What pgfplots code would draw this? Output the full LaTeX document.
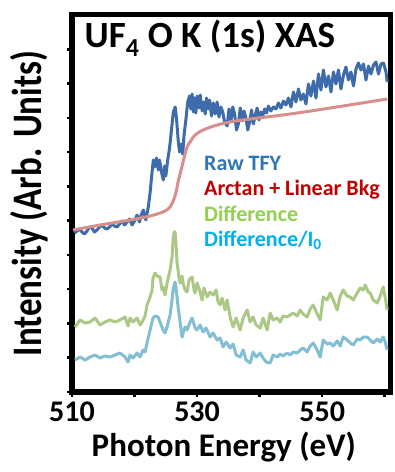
\documentclass[border=0pt]{standalone}
\usepackage{fontspec}
\setmainfont{Carlito}
\usepackage{pgfplots}
\pgfplotsset{compat=1.18}
\definecolor{rawline}{RGB}{62,108,170}
\definecolor{fitline}{RGB}{214,143,140}
\definecolor{diffline}{RGB}{172,200,134}
\definecolor{diffiline}{RGB}{130,190,212}
\definecolor{rawtxt}{RGB}{46,117,182}
\definecolor{fittxt}{RGB}{192,0,0}
\definecolor{difftxt}{RGB}{146,208,80}
\definecolor{diffitxt}{RGB}{0,176,240}
\begin{document}
\begin{tikzpicture}[x=1pt,y=1pt]
\useasboundingbox (-72pt,-80pt) rectangle (323pt,392pt);
\begin{axis}[
  at={(0,0)}, anchor=south west,
  width=319pt, height=377pt, scale only axis,
  xmin=510, xmax=561, ymin=0, ymax=377,
  axis line style={line width=5pt},
  xtick={510,520,530,540,550,560},
  xticklabels={510,,530,,550,},
  ytick={0,34.27,68.55,102.82,137.09,171.36,205.64,239.91,274.18,308.45,342.73},
  yticklabels={},
  xtick pos=bottom, ytick pos=left,
  tick align=outside,
  major tick length=5pt,
  every tick/.style={black, line width=2.5pt},
  ticklabel style={font=\fontsize{30}{30}\selectfont\bfseries},
  /pgf/number format/assume math mode=true,
  xticklabel style={anchor=north, inner sep=0pt, text depth=0pt, yshift=-5pt},
  xlabel={Photon Energy (eV)},
  ylabel={Intensity (Arb. Units)},
  xlabel style={at={(rel axis cs:0.476,0)}, anchor=base, inner sep=0pt, text height=21pt, yshift=-64pt,
    font=\fontsize{33}{33}\selectfont\bfseries},
  ylabel style={at={(rel axis cs:0,0.5)}, anchor=base, inner sep=0pt, yshift=30pt, yscale=1.2,
    font=\fontsize{35}{35}\selectfont\bfseries},
  clip=true,
]
\draw[line width=7pt, line cap=rect] (rel axis cs:0,1) |- (rel axis cs:1,0);
% Raw TFY
\addplot[rawline, line width=3pt, line join=round] coordinates {
(510.4,159)(510.8,161)(511.2,163)(511.6,160)(512.0,158)(512.4,161)(512.8,165)(513.2,164)
(513.6,160)(514.0,162)(514.4,165)(514.8,167)(515.2,164)(515.6,163)(516.0,165)(516.4,168)
(516.8,166)(517.2,165)(517.6,168)(518.0,171)(518.4,167)(518.8,170)(519.2,173)(519.6,167)
(520.0,171)(520.4,177)(520.8,170)(521.0,176)(521.4,182)(521.8,172)(522.2,185)(522.5,200)
(522.8,220)(523.0,232)(523.2,225)(523.5,234)(523.8,222)(524.0,232)(524.3,220)(524.6,212)
(524.8,226)(525.0,216)(525.3,232)(525.6,244)(525.9,262)(526.2,280)(526.5,285)(526.7,274)
(527.0,250)(527.2,240)(527.4,248)(527.7,238)(527.9,256)(528.2,272)(528.5,290)(528.8,296)
(529.0,283)(529.2,298)(529.4,280)(529.6,294)(529.8,279)(530.0,296)(530.3,284)(530.5,297)
(530.8,281)(531.0,290)(531.3,278)(531.5,294)(531.8,283)(532.0,292)(532.3,276)(532.6,289)
(532.9,278)(533.2,290)(533.5,275)(533.8,285)(534.1,280)(534.4,270)(534.8,266)(535.1,283)
(535.4,270)(535.7,285)(536.0,278)(536.3,262)(536.6,268)(536.9,284)(537.2,271)(537.5,281)
(537.8,274)(538.1,262)(538.4,270)(538.7,282)(539.0,268)(539.3,277)(539.6,284)(539.9,272)
(540.2,280)(540.5,276)(540.8,283)(541.1,279)(541.4,286)(541.8,281)(542.2,285)(542.6,283)
(543.0,289)(543.4,284)(543.8,291)(544.2,287)(544.6,294)(545.0,285)(545.4,300)(545.8,290)
(546.2,303)(546.6,292)(547.0,298)(547.4,288)(547.8,308)(548.2,296)(548.6,311)(549.0,294)
(549.4,318)(549.8,302)(550.2,322)(550.6,305)(551.0,316)(551.4,300)(551.8,320)(552.2,308)
(552.6,322)(553.0,303)(553.4,317)(553.8,325)(554.2,312)(554.6,320)(555.0,306)(555.4,323)
(555.8,329)(556.2,322)(556.6,328)(557.0,312)(557.4,326)(557.8,318)(558.2,327)(558.6,330)
(559.0,318)(559.4,328)(559.8,329)(560.2,320)(560.4,310)
};
% Arctan + linear background
\addplot[fitline, line width=3pt, smooth] coordinates {
(510.16,162)(514.48,167)(519.28,172)(522.48,176)(524.08,179)(524.88,181)(525.68,185)
(526.48,196)(526.96,210)(527.28,218)(527.76,230)(528.24,242)(528.56,247)(528.88,250)
(529.68,257)(530.96,262)(533.20,267)(536.08,271)(538.48,273)(544.88,278)(551.28,284)(560.40,293)
};
% Difference
\addplot[diffline, line width=3pt, line join=round] coordinates {
(510.48,65)(511.28,72)(512.08,69)(512.88,70)(513.68,74)(514.48,67)(515.28,70)(516.08,72)
(516.88,70)(517.68,72)(518.48,75)(518.96,66)(519.28,74)(519.76,70)(520.40,74)(520.88,67)
(521.20,70)(521.68,76)(522.00,87)(522.48,95)(522.80,102)(522.96,114)(523.28,119)(523.60,116)
(524.08,115)(524.40,102)(524.56,105)(524.88,97)(525.20,109)(525.68,122)(526.00,135)(526.16,152)
(526.32,160)(526.48,160)(526.64,147)(526.80,129)(527.12,114)(527.28,109)(527.60,116)(527.76,109)
(528.08,102)(528.40,100)(528.72,112)(529.20,115)(529.52,102)(529.68,99)(530.00,109)(530.48,100)
(530.80,92)(531.12,104)(531.60,95)(532.08,100)(532.56,97)(533.04,102)(533.36,90)(533.68,87)
(534.00,94)(534.48,82)(534.80,92)(535.28,75)(535.76,65)(536.24,74)(536.88,62)(537.36,74)
(538.00,82)(538.48,70)(538.96,75)(539.44,67)(540.08,64)(540.56,74)(541.20,62)(541.68,79)
(542.16,72)(542.80,74)(543.28,70)(543.76,76)(544.40,75)(544.88,77)(545.36,79)(546.00,76)
(546.48,82)(546.96,78)(547.60,75)(548.08,83)(548.56,87)(549.20,78)(549.68,72)(550.16,95)
(550.80,92)(551.28,99)(551.76,92)(552.40,82)(552.88,96)(553.36,102)(554.00,96)(554.48,95)
(554.96,92)(555.60,99)(556.08,104)(556.56,102)(556.88,107)(557.36,100)(557.68,99)(558.16,92)
(558.80,89)(559.28,96)(559.76,105)(560.08,94)(560.40,82)
};
% Difference / I0
\addplot[diffiline, line width=3pt, line join=round] coordinates {
(510.48,32)(511.28,35)(512.08,32)(512.88,35)(513.68,37)(514.48,34)(515.28,36)(516.08,35)
(516.88,37)(517.68,39)(518.48,35)(518.96,30)(519.28,37)(519.76,34)(520.40,39)(520.88,35)
(521.36,42)(521.68,40)(522.00,49)(522.48,62)(522.96,74)(523.28,76)(523.76,75)(524.08,70)
(524.56,62)(524.88,59)(525.20,65)(525.68,77)(526.00,92)(526.16,102)(526.48,110)(526.64,104)
(526.96,85)(527.28,70)(527.60,55)(527.76,59)(528.08,65)(528.40,62)(528.88,70)(529.20,74)
(529.68,64)(530.00,62)(530.48,67)(530.96,60)(531.44,64)(532.08,55)(532.56,59)(533.20,52)
(533.68,54)(534.16,45)(534.64,50)(534.96,47)(535.28,44)(535.76,48)(536.24,37)(536.88,35)
(537.36,42)(537.84,32)(538.48,29)(538.96,40)(539.44,35)(540.08,39)(540.56,34)(541.04,30)
(541.68,29)(542.16,37)(542.80,35)(543.28,38)(543.76,36)(544.40,39)(544.88,37)(545.36,40)
(546.00,39)(546.48,42)(546.96,44)(547.60,40)(548.08,46)(548.56,49)(549.20,42)(549.68,35)
(550.16,52)(550.80,48)(551.28,49)(551.76,46)(552.40,51)(552.88,46)(553.36,55)(554.00,52)
(554.48,49)(554.96,47)(555.60,53)(556.08,52)(556.56,55)(557.20,55)(557.68,52)(558.16,49)
(558.80,53)(559.28,50)(559.76,55)(560.08,50)(560.40,42)
};
\node[anchor=base west, inner sep=0pt, font=\fontsize{37}{37}\selectfont\bfseries] at (axis cs:512.0,344) {UF$_{\mathbf{4}}$ O K (1s) XAS};
\node[anchor=base west, inner sep=0pt, text=rawtxt, font=\fontsize{22}{22}\selectfont\bfseries] at (axis cs:531.1,221) {Raw TFY};
\node[anchor=base west, inner sep=0pt, text=fittxt, font=\fontsize{22}{22}\selectfont\bfseries] at (axis cs:531.1,196) {Arctan + Linear Bkg};
\node[anchor=base west, inner sep=0pt, text=difftxt, font=\fontsize{22}{22}\selectfont\bfseries] at (axis cs:531.1,170) {Difference};
\node[anchor=base west, inner sep=0pt, text=diffitxt, font=\fontsize{22}{22}\selectfont\bfseries] at (axis cs:531.1,146) {Difference/I$_{\mathbf{0}}$};
\end{axis}
\end{tikzpicture}
\end{document}
